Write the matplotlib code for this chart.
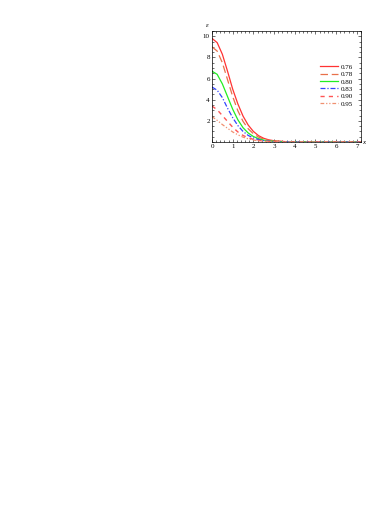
import matplotlib
matplotlib.use("Agg")
import matplotlib.pyplot as plt
from matplotlib.ticker import MultipleLocator

x = [0, 0.25, 0.5, 0.75, 1.0, 1.25, 1.5, 1.75, 2.0, 2.25, 2.5, 2.75, 3.0, 3.5, 4.0, 5.0, 6.0, 7.2]
labels = ["0.76", "0.78", "0.80", "0.83", "0.90", "0.95"]
y076 = [9.8, 9.4, 8.3, 6.7, 5.0, 3.6, 2.45, 1.6, 1.0, 0.6, 0.35, 0.2, 0.12, 0.04, 0.01, 0, 0, 0]
y078 = [9.0, 8.6, 7.5, 5.9, 4.3, 2.95, 1.95, 1.25, 0.78, 0.46, 0.27, 0.15, 0.08, 0.03, 0.01, 0, 0, 0]
y080 = [6.7, 6.4, 5.5, 4.3, 3.1, 2.1, 1.35, 0.85, 0.52, 0.31, 0.18, 0.1, 0.06, 0.02, 0.005, 0, 0, 0]
y083 = [5.2, 4.9, 4.2, 3.2, 2.3, 1.55, 1.0, 0.62, 0.38, 0.23, 0.13, 0.08, 0.04, 0.01, 0, 0, 0, 0]
y090 = [3.4, 3.05, 2.5, 1.95, 1.4, 0.95, 0.62, 0.4, 0.25, 0.15, 0.09, 0.05, 0.03, 0.01, 0, 0, 0, 0]
y095 = [2.4, 2.05, 1.65, 1.3, 0.95, 0.68, 0.46, 0.3, 0.19, 0.11, 0.07, 0.04, 0.02, 0.01, 0, 0, 0, 0]
series = [y076, y078, y080, y083, y090, y095]

styles = [
    dict(color="#ff3333", ls="-", lw=0.9),
    dict(color="#e8704a", ls=(0, (6, 3)), lw=0.9),
    dict(color="#22ee22", ls="-", lw=0.9),
    dict(color="#3344ff", ls=(0, (4, 1.5, 1, 1.5)), lw=0.9),
    dict(color="#ff5555", ls=(0, (3, 3)), lw=1.0),
    dict(color="#f09070", ls=(0, (3, 1.5, 1, 1.5, 1, 1.5)), lw=0.9),
]

fig = plt.figure(figsize=(3.74, 5.28), dpi=100)
ax = fig.add_axes([212/374, 1-142/528, (361-212)/374, (142-31)/528])
for ys, lab, st in zip(series, labels, styles):
    ax.plot(x, ys, label=lab, **st)

ax.set_xlim(0, 7.2)
ax.set_ylim(0, 10.5)
ax.xaxis.set_major_locator(MultipleLocator(1))
ax.xaxis.set_minor_locator(MultipleLocator(0.2))
ax.yaxis.set_major_locator(MultipleLocator(2))
ax.yaxis.set_minor_locator(MultipleLocator(0.5))
ax.tick_params(which="both", direction="in", top=True, right=True,
               labelsize=5, pad=1.5, width=0.4)
ax.tick_params(which="major", length=2.5)
ax.tick_params(which="minor", length=1.2)
ax.set_yticks([2, 4, 6, 8, 10])
for lbl in ax.get_xticklabels() + ax.get_yticklabels():
    lbl.set_fontfamily("Liberation Serif")
for s in ax.spines.values():
    s.set_linewidth(0.5)

ax.text(-0.02, 1.03, "ε", transform=ax.transAxes, fontsize=5,
        family="Liberation Serif", style="italic", ha="right", va="bottom")
ax.text(1.01, 0.0, "x", transform=ax.transAxes, fontsize=5,
        family="Liberation Serif", style="italic", ha="left", va="center")

leg = ax.legend(loc="upper right", bbox_to_anchor=(0.99, 0.76), frameon=False,
                handlelength=2.6, labelspacing=0.22, handletextpad=0.4,
                prop={"family": "Liberation Serif", "size": 5})

fig.savefig("out.png", dpi=100)
